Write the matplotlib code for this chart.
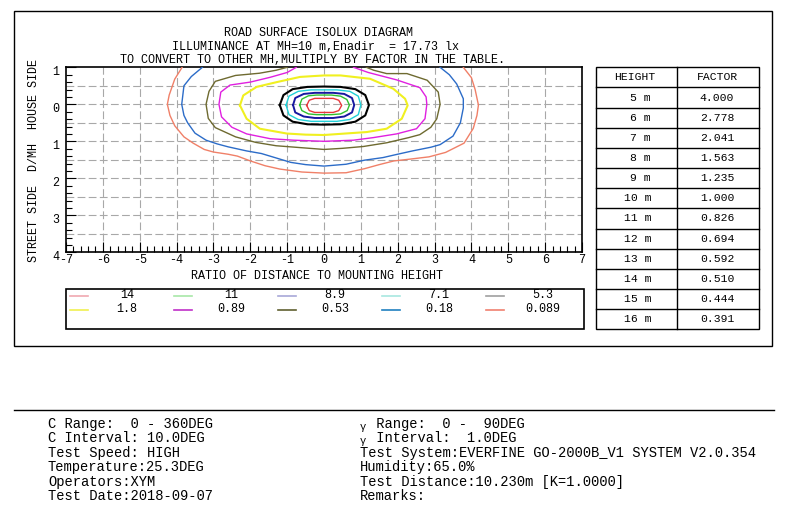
import numpy as np
import matplotlib
matplotlib.use("Agg")
import matplotlib.pyplot as plt
from matplotlib.transforms import ScaledTranslation

plt.rcParams['font.family'] = ['Liberation Mono', 'DejaVu Sans Mono']
plt.rcParams['axes.unicode_minus'] = False

# isolux levels (lx) and line colours
levels = ["14", "11", "8.9", "7.1", "5.3", "1.8", "0.89", "0.53", "0.18", "0.089"]
colors = ['#e8383c', '#30c030', '#1818a0', '#20d0d8', '#000000',
          '#f0f020', '#e020e0', '#6e6a30', '#2c6cc8', '#f08068']
legend_colors = ['#f0a8b0', '#a8e8a8', '#a8a8d8', '#a8e8e0', '#a0a0a0',
                 '#f0f050', '#c030c8', '#606030', '#2080c0', '#f08070']
widths = [1.0, 1.0, 1.4, 1.0, 1.5, 1.5, 1.0, 1.0, 1.0, 1.0]

# contour outlines (x = ratio D/MH, y = D/MH, + street side)
lux_14_x = [-0.47, -0.40, -0.25, 0.0, 0.25, 0.40, 0.48, 0.40, 0.25, 0.0, -0.25, -0.40, -0.47]
lux_14_y = [0.03, -0.11, -0.16, -0.16, -0.16, -0.11, 0.03, 0.17, 0.22, 0.22, 0.22, 0.17, 0.03]
lux_11_x = [-0.66, -0.60, -0.42, -0.2, 0.0, 0.2, 0.45, 0.62, 0.69, 0.63, 0.45, 0.2, 0.0, -0.2, -0.42, -0.60, -0.66]
lux_11_y = [0.02, -0.14, -0.23, -0.25, -0.25, -0.25, -0.22, -0.13, 0.02, 0.17, 0.26, 0.28, 0.28, 0.28, 0.26, 0.17, 0.02]
lux_8_9_x = [-0.84, -0.78, -0.55, -0.25, 0.0, 0.25, 0.55, 0.76, 0.82, 0.76, 0.55, 0.25, 0.0, -0.25, -0.55, -0.78, -0.84]
lux_8_9_y = [0.02, -0.17, -0.28, -0.31, -0.31, -0.31, -0.28, -0.17, 0.02, 0.22, 0.33, 0.37, 0.37, 0.37, 0.33, 0.22, 0.02]
lux_7_1_x = [-1.03, -0.95, -0.70, -0.35, 0.0, 0.35, 0.70, 0.93, 1.0, 0.93, 0.70, 0.35, 0.0, -0.35, -0.70, -0.95, -1.03]
lux_7_1_y = [0.02, -0.22, -0.35, -0.39, -0.39, -0.39, -0.35, -0.22, 0.02, 0.28, 0.41, 0.46, 0.46, 0.46, 0.41, 0.28, 0.02]
lux_5_3_x = [-1.20, -1.10, -0.85, -0.45, 0.0, 0.45, 0.85, 1.12, 1.22, 1.12, 0.85, 0.45, 0.0, -0.45, -0.85, -1.10, -1.20]
lux_5_3_y = [0.02, -0.25, -0.41, -0.47, -0.48, -0.47, -0.41, -0.25, 0.02, 0.30, 0.47, 0.54, 0.55, 0.54, 0.47, 0.30, 0.02]
lux_1_8_x = [-2.28, -2.19, -1.83, -1.28, -0.65, 0.0, 0.45, 1.25, 1.88, 2.20, 2.27, 2.11, 1.70, 1.16, 0.43, 0.0, -0.50, -1.01, -1.74, -2.10, -2.28]
lux_1_8_y = [0.03, -0.24, -0.47, -0.60, -0.74, -0.78, -0.78, -0.69, -0.42, -0.15, 0.03, 0.39, 0.66, 0.75, 0.80, 0.83, 0.82, 0.79, 0.66, 0.39, 0.03]
lux_0_89_x = [-0.75, -1.0, -1.46, -2.0, -2.55, -2.8, -2.85, -2.78, -2.5, -2.1, -1.46, -0.83, 0.0, 0.8, 1.34, 1.97, 2.51, 2.74, 2.79, 2.77, 2.6, 1.97, 1.2, 0.8]
lux_0_89_y = [-1.0, -0.86, -0.73, -0.60, -0.52, -0.33, 0.0, 0.34, 0.62, 0.80, 0.93, 0.97, 1.0, 0.97, 0.90, 0.80, 0.66, 0.39, 0.0, -0.2, -0.45, -0.66, -0.86, -1.0]
lux_0_53_x = [-1.0, -1.3, -1.75, -2.4, -2.95, -3.12, -3.2, -3.14, -2.95, -2.4, -1.85, -1.3, -0.65, 0.0, 0.5, 1.07, 1.7, 2.3, 2.6, 2.9, 3.06, 3.15, 3.1, 2.8, 2.25, 1.7, 1.35, 1.15]
lux_0_53_y = [-1.0, -0.92, -0.84, -0.78, -0.62, -0.35, 0.0, 0.38, 0.63, 0.88, 1.03, 1.12, 1.17, 1.22, 1.19, 1.14, 1.04, 0.90, 0.82, 0.62, 0.39, 0.0, -0.33, -0.65, -0.83, -0.83, -0.92, -1.0]
lux_0_18_x = [-3.3, -3.6, -3.8, -3.86, -3.8, -3.7, -3.5, -3.2, -2.9, -2.6, -2.1, -1.7, -1.3, -0.9, -0.5, 0.0, 0.6, 1.1, 1.6, 1.95, 2.4, 2.9, 3.15, 3.5, 3.7, 3.78, 3.78, 3.6, 3.4, 3.15]
lux_0_18_y = [-1.0, -0.75, -0.5, 0.0, 0.3, 0.5, 0.78, 0.97, 1.07, 1.15, 1.26, 1.33, 1.45, 1.57, 1.63, 1.67, 1.62, 1.51, 1.44, 1.36, 1.26, 1.16, 1.09, 0.86, 0.5, 0.1, -0.15, -0.55, -0.8, -1.0]
lux_0_089_x = [-3.85, -4.05, -4.2, -4.25, -4.18, -4.05, -3.8, -3.55, -3.25, -3.0, -2.6, -2.35, -2.0, -1.6, -1.2, -0.6, 0.0, 0.6, 1.1, 1.5, 1.9, 2.35, 2.85, 3.3, 3.8, 4.05, 4.15, 4.19, 4.1, 4.0, 3.78]
lux_0_089_y = [-1.0, -0.68, -0.25, 0.0, 0.3, 0.58, 0.88, 1.05, 1.22, 1.29, 1.35, 1.40, 1.53, 1.66, 1.75, 1.83, 1.86, 1.85, 1.74, 1.63, 1.53, 1.48, 1.42, 1.30, 1.05, 0.65, 0.30, 0.02, -0.40, -0.72, -1.0]

contours_x = [lux_14_x, lux_11_x, lux_8_9_x, lux_7_1_x, lux_5_3_x,
              lux_1_8_x, lux_0_89_x, lux_0_53_x, lux_0_18_x, lux_0_089_x]
contours_y = [lux_14_y, lux_11_y, lux_8_9_y, lux_7_1_y, lux_5_3_y,
              lux_1_8_y, lux_0_89_y, lux_0_53_y, lux_0_18_y, lux_0_089_y]

# mounting height conversion table
heights = ["5 m", "6 m", "7 m", "8 m", "9 m", "10 m", "11 m", "12 m", "13 m", "14 m", "15 m", "16 m"]
factors = ["4.000", "2.778", "2.041", "1.563", "1.235", "1.000", "0.826", "0.694", "0.592", "0.510", "0.444", "0.391"]

info_left = ["C Range:  0 - 360DEG", "C Interval: 10.0DEG", "Test Speed: HIGH",
             "Temperature:25.3DEG", "Operators:XYM", "Test Date:2018-09-07"]
info_right = ["Range:  0 -  90DEG", "Interval:  1.0DEG",
              "Test System:EVERFINE GO-2000B_V1 SYSTEM V2.0.354", "Humidity:65.0%",
              "Test Distance:10.230m [K=1.0000]", "Remarks:"]

W, H = 800, 532
fig = plt.figure(figsize=(W / 100, H / 100), dpi=100)
fig.patch.set_facecolor('white')

# background axes in pixel coordinates for boxes, table and text
bg = fig.add_axes([0, 0, 1, 1])
bg.set_xlim(0, W)
bg.set_ylim(H, 0)
bg.axis('off')
bg.set_zorder(0)

bg.add_patch(plt.Rectangle((14, 11), 758, 335, fill=False, lw=1.0, ec='black'))
bg.plot([14, 774], [410, 410], color='black', lw=1.0)

# titles
bg.text(318, 33, "ROAD SURFACE ISOLUX DIAGRAM", ha='center', va='center', fontsize=8.5)
bg.text(315, 46.5, "ILLUMINANCE AT MH=10 m,Enadir  = 17.73 lx", ha='center', va='center', fontsize=8.5)
bg.text(312, 60, "TO CONVERT TO OTHER MH,MULTIPLY BY FACTOR IN THE TABLE.", ha='center', va='center', fontsize=8.5)
bg.text(34, 160, "STREET SIDE  D/MH  HOUSE SIDE", rotation=90, ha='center', va='center', fontsize=8.5)
bg.text(317, 276, "RATIO OF DISTANCE TO MOUNTING HEIGHT", ha='center', va='center', fontsize=8.5)

# legend box
bg.add_patch(plt.Rectangle((66, 289), 518, 40, fill=False, lw=1.2, ec='black'))
for i, lev in enumerate(levels):
    row, col = divmod(i, 5)
    yy = 295.5 + row * 14
    x0 = 70 + col * 104
    bg.plot([x0, x0 + 18], [yy, yy], color=legend_colors[i], lw=1.2)
    bg.text(127 + col * 104, yy, lev, ha='center', va='center', fontsize=8.5)

# factor table
tx0, tx1, txm = 596, 759, 677
ty0, rh = 67.3, 20.15
nrows = len(heights) + 1
bg.add_patch(plt.Rectangle((tx0, ty0), tx1 - tx0, rh * nrows, fill=False, lw=1.0, ec='black'))
bg.plot([txm, txm], [ty0, ty0 + rh * nrows], color='black', lw=1.0)
for r in range(1, nrows):
    bg.plot([tx0, tx1], [ty0 + r * rh, ty0 + r * rh], color='black', lw=1.0)
bg.text(635, ty0 + rh / 2, "HEIGHT", ha='center', va='center', fontsize=8.2)
bg.text(717, ty0 + rh / 2, "FACTOR", ha='center', va='center', fontsize=8.2)
for r, (h, f) in enumerate(zip(heights, factors)):
    yy = ty0 + (r + 1.5) * rh
    bg.text(651, yy, h, ha='right', va='center', fontsize=8.2)
    bg.text(717, yy, f, ha='center', va='center', fontsize=8.2)

# test information
for i, (l, r) in enumerate(zip(info_left, info_right)):
    yy = 424 + i * 14.5
    bg.text(48, yy, l, ha='left', va='center', fontsize=9.9)
    if i < 2:
        bg.text(360, yy + 3, "\u03b3", ha='left', va='center', fontsize=7.5)
        bg.text(368.3, yy, " " + r, ha='left', va='center', fontsize=9.9)
    else:
        bg.text(360, yy, r, ha='left', va='center', fontsize=9.9)

# isolux diagram
ax = fig.add_axes([66 / W, 1 - 252.3 / H, 516 / W, 185 / H])
ax.set_zorder(2)
ax.set_xlim(-7, 7)
ax.set_ylim(4, -1)

for gx in range(-6, 7):
    ax.axvline(gx, color='#a8a8a8', lw=0.8, ls=(0, (7, 3)), zorder=0)
for gy in np.arange(-0.5, 4.0, 0.5):
    ax.axhline(gy, color='#a8a8a8', lw=0.8, ls=(0, (7, 3)), zorder=0)

for cx, cy, c, lw in zip(contours_x, contours_y, colors, widths):
    ax.plot(cx, cy, color=c, lw=lw, zorder=3)

ax.set_xticks(range(-7, 8))
ax.set_xticks(np.arange(-7, 7.01, 0.2), minor=True)
ax.set_yticks(range(-1, 5))
ax.set_yticklabels(['1', '0', '1', '2', '3', '4'])
ax.set_yticks(np.arange(-1, 4.01, 0.2), minor=True)
ax.tick_params(which='both', direction='in', top=False, right=False, color='black')
ax.tick_params(which='major', length=7, width=0.8, labelsize=8.5)
ax.tick_params(which='minor', length=4, width=0.8)
ax.tick_params(axis='x', pad=1.5)
ax.tick_params(axis='y', pad=5)
for lab in ax.get_yticklabels():
    lab.set_transform(lab.get_transform() + ScaledTranslation(0, -3 / 100, fig.dpi_scale_trans))
for sp in ax.spines.values():
    sp.set_linewidth(1.2)

fig.savefig("out.png", dpi=100, facecolor='white')
